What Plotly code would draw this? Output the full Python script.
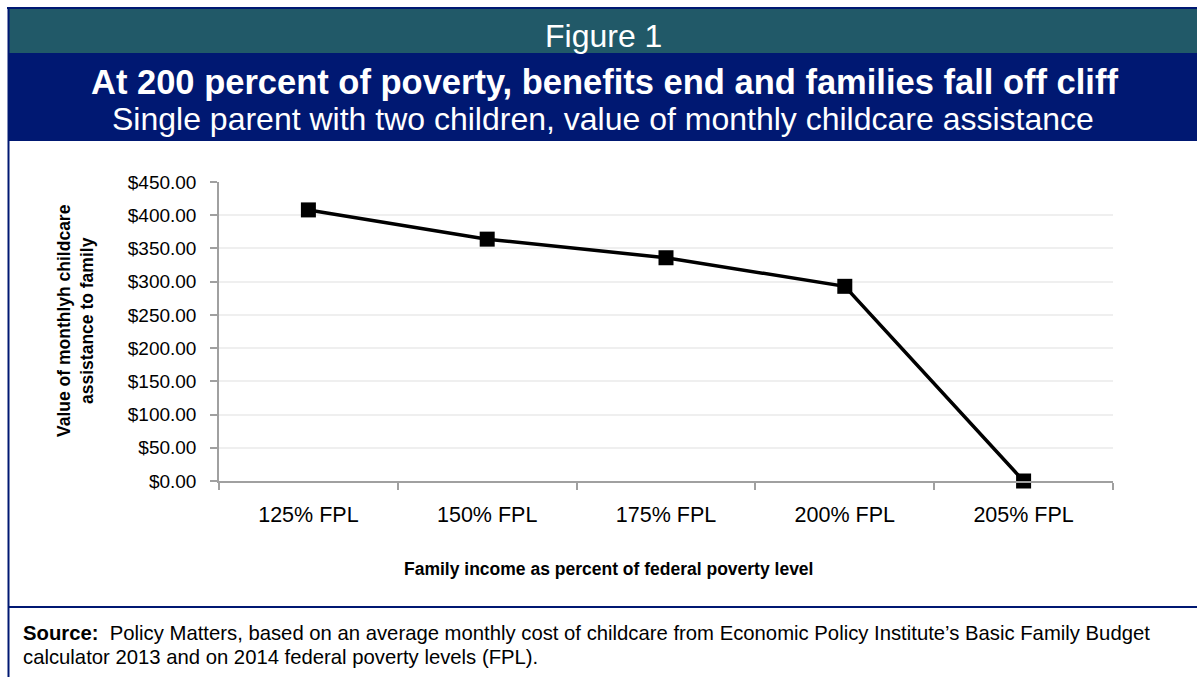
import plotly.graph_objects as go

categories = ["125% FPL", "150% FPL", "175% FPL", "200% FPL", "205% FPL"]
values = [408, 364, 336, 293, 0]
y_ticks = [0, 50, 100, 150, 200, 250, 300, 350, 400, 450]
y_tick_labels = ["$%.2f" % v for v in y_ticks]

W, H = 1197, 677
L, R, T, B = 219, 1113, 182, 481  # plot area in screen coordinates
FONT = "Arial, Liberation Sans, sans-serif"


def px(x):
    return (x - L) / (R - L)


def py(y):
    return (B - y) / (B - T)


fig = go.Figure()
fig.add_trace(go.Scatter(
    x=categories, y=values, mode="lines+markers",
    line=dict(color="black", width=3.5),
    marker=dict(symbol="square", size=15, color="black"),
    showlegend=False, hoverinfo="x+y", cliponaxis=False,
))

NAVY = "#001872"
shapes = [
    dict(type="rect", xref="paper", yref="paper", x0=px(8), x1=px(1200), y0=py(53), y1=py(8),
         fillcolor="#215968", line=dict(width=0), layer="below"),
    dict(type="rect", xref="paper", yref="paper", x0=px(8), x1=px(1200), y0=py(141), y1=py(53),
         fillcolor=NAVY, line=dict(width=0), layer="below"),
    dict(type="line", xref="paper", yref="paper", x0=px(7), x1=px(1200), y0=py(8), y1=py(8),
         line=dict(color=NAVY, width=2)),
    dict(type="line", xref="paper", yref="paper", x0=px(8.5), x1=px(8.5), y0=py(7), y1=py(680),
         line=dict(color=NAVY, width=2)),
    dict(type="line", xref="paper", yref="paper", x0=px(8), x1=px(1200), y0=py(607), y1=py(607),
         line=dict(color=NAVY, width=2)),
]

annotations = [
    dict(text="Figure 1", xref="paper", yref="paper", x=px(603), y=py(36),
         showarrow=False, font=dict(family=FONT, size=32, color="white"),
         xanchor="center", yanchor="middle"),
    dict(text="<b>At 200 percent of poverty, benefits end and families fall off cliff</b>",
         xref="paper", yref="paper", x=px(604), y=py(82),
         showarrow=False, font=dict(family=FONT, size=34.5, color="white"),
         xanchor="center", yanchor="middle"),
    dict(text="Single parent with two children, value of monthly childcare assistance",
         xref="paper", yref="paper", x=px(603), y=py(119),
         showarrow=False, font=dict(family=FONT, size=32, color="white"),
         xanchor="center", yanchor="middle"),
    dict(text="<b>Value of monthlyh childcare<br>assistance to family</b>",
         xref="paper", yref="paper", x=px(75), y=py(321),
         showarrow=False, textangle=-90, font=dict(family=FONT, size=17.5, color="black"),
         xanchor="center", yanchor="middle"),
    dict(text="<b>Family income as percent of federal poverty level</b>",
         xref="paper", yref="paper", x=px(608), y=py(569),
         showarrow=False, font=dict(family=FONT, size=17.5, color="black"),
         xanchor="center", yanchor="middle"),
    dict(text="<b>Source:</b>  Policy Matters, based on an average monthly cost of childcare from Economic Policy Institute\u2019s Basic Family Budget",
         xref="paper", yref="paper", x=px(21), y=py(633),
         showarrow=False, align="left", font=dict(family=FONT, size=20.3, color="black"),
         xanchor="left", yanchor="middle"),
    dict(text="calculator 2013 and on 2014 federal poverty levels (FPL).",
         xref="paper", yref="paper", x=px(21), y=py(657),
         showarrow=False, align="left", font=dict(family=FONT, size=20.3, color="black"),
         xanchor="left", yanchor="middle"),
]

fig.update_layout(
    width=W, height=H,
    margin=dict(l=L, r=W - R, t=T, b=H - B, pad=0),
    paper_bgcolor="white", plot_bgcolor="white",
    shapes=shapes, annotations=annotations,
    font=dict(family=FONT),
    xaxis=dict(
        type="category", range=[-0.5, 4.5], tickson="boundaries",
        ticks="outside", ticklen=7, tickcolor="#a0a0a0", tickwidth=1.5,
        showline=True, linecolor="#a0a0a0", linewidth=1.5,
        showgrid=False, zeroline=False,
        tickfont=dict(family=FONT, size=21.5, color="black"),
        ticklabelstandoff=13,
    ),
    yaxis=dict(
        range=[0, 450], tickvals=y_ticks, ticktext=y_tick_labels,
        ticks="outside", ticklen=7, tickcolor="#a0a0a0", tickwidth=1.5,
        showline=True, linecolor="#a0a0a0", linewidth=1.5,
        showgrid=True, gridcolor="#efefef", gridwidth=1.5, zeroline=False,
        tickfont=dict(family=FONT, size=19, color="black"),
        ticklabelstandoff=10,
    ),
)

fig.write_html(
    "out.html",
    config={"displayModeBar": False},
    post_script="document.body.style.margin='0';document.body.style.overflow='hidden';",
)
